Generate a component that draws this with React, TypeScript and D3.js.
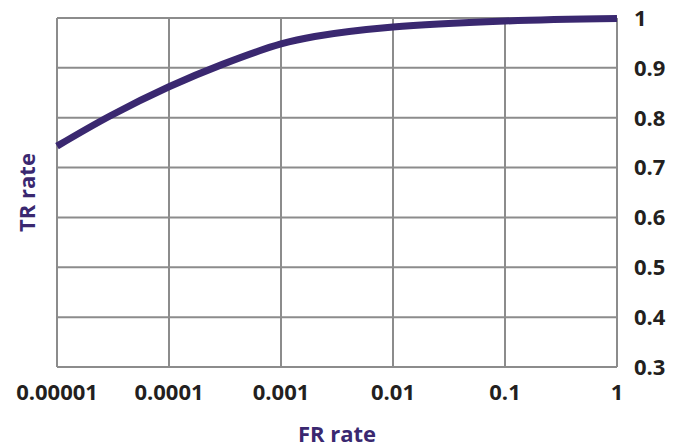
import React from "react";
import * as d3 from "d3";

// FR rate (x, log scale) vs TR rate (y)
const frRate = [0.00001, 0.00003, 0.0001, 0.0003, 0.001, 0.002, 0.01, 0.1, 1];
const trRate = [0.743, 0.804, 0.862, 0.907, 0.948, 0.963, 0.982, 0.994, 0.999];

const xTicks = [0.00001, 0.0001, 0.001, 0.01, 0.1, 1];
const xTickLabels = ["0.00001", "0.0001", "0.001", "0.01", "0.1", "1"];
const yTicks = [0.3, 0.4, 0.5, 0.6, 0.7, 0.8, 0.9, 1];
const yTickLabels = ["0.3", "0.4", "0.5", "0.6", "0.7", "0.8", "0.9", "1"];

const purple = "#3a2870";
const grid = "#8c8c8c";
const font = "'Open Sans', 'Noto Sans', sans-serif";

export default function App() {
  const width = 683;
  const height = 448;
  const margin = { top: 18, right: 66, bottom: 81, left: 57 };
  const innerW = width - margin.left - margin.right;
  const innerH = height - margin.top - margin.bottom;

  const x = d3.scaleLog().domain([0.00001, 1]).range([0, innerW]);
  const y = d3.scaleLinear().domain([0.3, 1]).range([innerH, 0]);

  const pts: [number, number][] = frRate.map((f, i) => [f, trRate[i]]);
  const line = d3
    .line<[number, number]>()
    .x((d) => x(d[0]))
    .y((d) => y(d[1]))
    .curve(d3.curveCatmullRom.alpha(0.5));

  return (
    <svg
      width={width}
      height={height}
      style={{ position: "absolute", left: 0, top: 0, background: "#fff" }}
    >
      <g transform={`translate(${margin.left},${margin.top})`}>
        {yTicks.map((t) => (
          <line
            key={"gy" + t}
            x1={0}
            x2={innerW}
            y1={y(t)}
            y2={y(t)}
            stroke={grid}
            strokeWidth={2}
          />
        ))}
        {xTicks.map((t) => (
          <line
            key={"gx" + t}
            x1={x(t)}
            x2={x(t)}
            y1={0}
            y2={innerH}
            stroke={grid}
            strokeWidth={2}
          />
        ))}
        <path
          d={line(pts) || ""}
          fill="none"
          stroke={purple}
          strokeWidth={7}
          strokeLinecap="butt"
        />
        {xTicks.map((t, i) => (
          <text
            key={"tx" + t}
            x={x(t)}
            y={innerH + 33}
            textAnchor="middle"
            fontFamily={font}
            fontWeight="bold"
            fontSize={22}
            fill="#231f20"
          >
            {xTickLabels[i]}
          </text>
        ))}
        {yTicks.map((t, i) => (
          <text
            key={"ty" + t}
            x={innerW + 17}
            y={y(t)}
            dy="0.36em"
            textAnchor="start"
            fontFamily={font}
            fontWeight="bold"
            fontSize={22}
            fill="#231f20"
          >
            {yTickLabels[i]}
          </text>
        ))}
        <text
          x={innerW / 2}
          y={innerH + 75}
          textAnchor="middle"
          fontFamily={font}
          fontWeight="bold"
          fontSize={22}
          fill={purple}
        >
          FR rate
        </text>
        <text
          transform={`translate(${-22},${innerH / 2}) rotate(-90)`}
          textAnchor="middle"
          fontFamily={font}
          fontWeight="bold"
          fontSize={22}
          fill={purple}
        >
          TR rate
        </text>
      </g>
    </svg>
  );
}
